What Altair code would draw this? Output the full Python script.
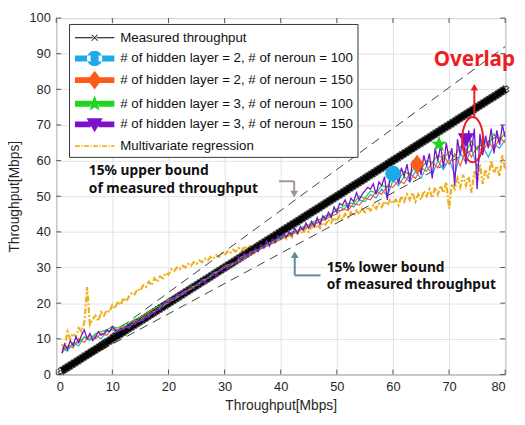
import altair as alt
import pandas as pd

# ---------------- data ----------------
x_ticks = [0, 10, 20, 30, 40, 50, 60, 70, 80]
y_ticks = [0, 10, 20, 30, 40, 50, 60, 70, 80, 90, 100]

labels = [
    "Measured throughput",
    "# of hidden layer = 2, # of neroun = 100",
    "# of hidden layer = 2, # of neroun = 150",
    "# of hidden layer = 3, # of neroun = 100",
    "# of hidden layer = 3, # of neroun = 150",
    "Multivariate regression",
]
colors = ["#000000", "#1EAAE8", "#FF5A1E", "#1FD51F", "#7D10C8", "#EDB120"]

int_x = [1, 2, 3, 4, 5, 6, 7, 8, 9, 10, 11, 12, 13, 14, 15, 16, 17, 18, 19, 20,
         21, 22, 23, 24, 25, 26, 27, 28, 29, 30, 31, 32, 33, 34, 35, 36, 37, 38, 39, 40,
         41, 42, 43, 44, 45, 46, 47, 48, 49, 50, 51, 52, 53, 54, 55, 56, 57, 58, 59, 60,
         61, 62, 63, 64, 65, 66, 67, 68, 69, 70, 71, 72, 73, 74, 75, 76, 77, 78, 79, 80]

half_x = [1.0, 1.5, 2.0, 2.5, 3.0, 3.5, 4.0, 4.5, 5.0, 5.5,
          6.0, 6.5, 7.0, 7.5, 8.0, 8.5, 9.0, 9.5, 10.0, 10.5,
          11.0, 11.5, 12.0, 12.5, 13.0, 13.5, 14.0, 14.5, 15.0, 15.5,
          16.0, 16.5, 17.0, 17.5, 18.0, 18.5, 19.0, 19.5, 20.0, 20.5,
          21.0, 21.5, 22.0, 22.5, 23.0, 23.5, 24.0, 24.5, 25.0, 25.5,
          26.0, 26.5, 27.0, 27.5, 28.0, 28.5, 29.0, 29.5, 30.0, 30.5,
          31.0, 31.5, 32.0, 32.5, 33.0, 33.5, 34.0, 34.5, 35.0, 35.5,
          36.0, 36.5, 37.0, 37.5, 38.0, 38.5, 39.0, 39.5, 40.0, 40.5,
          41.0, 41.5, 42.0, 42.5, 43.0, 43.5, 44.0, 44.5, 45.0, 45.5,
          46.0, 46.5, 47.0, 47.5, 48.0, 48.5, 49.0, 49.5, 50.0, 50.5,
          51.0, 51.5, 52.0, 52.5, 53.0, 53.5, 54.0, 54.5, 55.0, 55.5,
          56.0, 56.5, 57.0, 57.5, 58.0, 58.5, 59.0, 59.5, 60.0, 60.5,
          61.0, 61.5, 62.0, 62.5, 63.0, 63.5, 64.0, 64.5, 65.0, 65.5,
          66.0, 66.5, 67.0, 67.5, 68.0, 68.5, 69.0, 69.5, 70.0, 70.5,
          71.0, 71.5, 72.0, 72.5, 73.0, 73.5, 74.0, 74.5, 75.0, 75.5,
          76.0, 76.5, 77.0, 77.5, 78.0, 78.5, 79.0, 79.5, 80.0]

# measured throughput: measured value against itself
meas_x = half_x
meas_y = half_x

# 15% bounds
bound_x = [1, 80]
upper_y = [1.15, 92]
lower_y = [0.85, 68]

nn_blue = [7.5, 6.5, 9.0, 8.0, 10.5, 9.5, 11.0, 10.0, 12.0, 12.5,
           12.0, 13.0, 13.5, 14.5, 15.0, 16.0, 17.0, 18.5, 19.0, 20.5,
           21.0, 22.0, 23.0, 24.0, 25.0, 26.0, 27.0, 28.0, 29.0, 30.0,
           30.5, 31.5, 32.5, 33.5, 34.5, 35.0, 36.0, 36.5, 37.5, 38.5,
           39.0, 39.5, 40.5, 41.0, 41.5, 42.5, 43.0, 44.0, 45.0, 46.0,
           46.0, 47.5, 47.0, 49.0, 48.5, 50.5, 49.5, 52.0, 50.0, 54.5,
           53.0, 55.5, 54.0, 57.0, 55.0, 58.5, 56.0, 60.0, 57.5, 60.5,
           56.0, 62.0, 59.5, 63.5, 58.0, 64.0, 61.0, 64.5, 63.5, 66.0]
nn_orange = [6.0, 8.0, 7.5, 10.0, 9.0, 11.0, 10.0, 11.5, 11.0, 13.0,
             12.5, 13.5, 13.0, 15.0, 15.5, 16.5, 17.5, 18.0, 19.5, 20.0,
             21.5, 22.0, 23.5, 24.0, 25.0, 26.0, 27.0, 28.0, 29.0, 30.0,
             30.5, 31.5, 32.0, 33.0, 34.0, 35.0, 35.5, 36.5, 37.0, 38.0,
             38.5, 39.5, 40.0, 41.0, 41.5, 42.0, 43.0, 43.5, 44.5, 45.0,
             46.5, 46.0, 48.0, 47.5, 49.5, 49.0, 51.5, 50.5, 53.0, 52.5,
             54.5, 53.5, 56.5, 55.0, 58.0, 57.0, 59.5, 58.0, 61.5, 59.0,
             62.0, 58.5, 63.5, 61.0, 64.0, 62.5, 65.5, 63.0, 66.5, 65.0]
nn_green = [7.0, 7.5, 8.5, 9.0, 10.5, 10.0, 11.5, 12.0, 12.5, 13.5,
            13.0, 14.0, 14.5, 15.5, 16.0, 17.0, 18.0, 19.0, 19.5, 21.0,
            21.5, 22.5, 23.0, 24.5, 25.0, 26.5, 27.0, 28.5, 29.0, 30.5,
            31.0, 31.5, 33.0, 33.5, 34.5, 35.0, 36.0, 37.0, 37.5, 38.0,
            39.0, 40.0, 40.0, 41.5, 42.0, 43.0, 43.5, 44.5, 45.0, 46.5,
            47.0, 48.0, 48.0, 50.0, 49.5, 51.5, 51.0, 53.0, 52.5, 55.5,
            54.5, 57.0, 56.0, 58.5, 57.5, 60.0, 59.5, 61.5, 60.5, 62.5,
            61.0, 64.0, 62.5, 65.5, 63.0, 66.5, 64.0, 67.5, 65.5, 68.0]
nn_purple = [6.0, 8.5, 7.0, 9.5, 8.0, 10.5, 9.0, 11.0, 12.5, 10.0,
             11.5, 9.5, 10.5, 12.0, 11.0, 11.5, 12.5, 12.0, 13.5, 12.5,
             12.0, 13.0, 12.5, 13.5, 13.0, 14.5, 14.0, 15.0, 15.5, 15.0,
             16.5, 16.0, 17.5, 17.0, 18.5, 18.0, 19.5, 20.5, 20.0, 21.5,
             21.0, 22.5, 22.0, 23.5, 22.5, 24.0, 24.5, 24.0, 25.5, 25.0,
             26.5, 25.5, 27.5, 27.0, 28.5, 27.5, 29.5, 29.0, 30.5, 29.5,
             31.0, 31.5, 31.0, 33.0, 32.0, 34.0, 33.0, 34.5, 34.0, 35.5,
             34.5, 36.5, 35.5, 37.5, 36.0, 38.0, 37.0, 39.0, 38.0, 39.5,
             38.5, 40.0, 39.0, 41.0, 39.5, 41.5, 40.5, 42.5, 41.0, 43.0,
             41.5, 44.0, 42.0, 44.5, 43.5, 45.5, 44.0, 47.0, 45.5, 48.0,
             47.5, 49.0, 46.5, 49.5, 48.5, 51.0, 49.0, 50.5, 51.5, 52.5,
             52.0, 53.5, 50.5, 54.0, 53.0, 55.5, 49.0, 56.0, 54.5, 57.0,
             53.5, 58.0, 55.5, 59.0, 54.0, 60.0, 57.5, 60.5, 56.0, 61.5,
             58.5, 62.0, 55.0, 63.5, 60.0, 64.5, 58.0, 65.0, 60.5, 63.5,
             53.0, 66.0, 61.5, 67.0, 59.0, 68.5, 62.5, 69.0, 52.0, 67.5,
             61.5, 67.0, 63.5, 69.0, 62.0, 68.5, 64.5, 70.0, 66.5]
regression = [8.5, 7.5, 12.0, 10.0, 11.5, 10.5, 13.0, 12.0, 14.5, 24.5,
              14.0, 15.5, 16.5, 15.0, 17.5, 16.5, 18.0, 17.5, 19.5, 18.5,
              20.5, 19.5, 21.5, 20.5, 22.0, 23.0, 22.5, 24.0, 23.5, 25.0,
              24.5, 26.0, 25.0, 27.0, 26.0, 27.5, 27.0, 28.5, 28.0, 29.5,
              29.0, 30.0, 29.5, 30.5, 30.0, 31.0, 30.5, 31.5, 31.0, 32.0,
              31.5, 32.5, 32.0, 33.0, 32.5, 33.5, 33.0, 34.0, 33.5, 34.5,
              34.0, 35.0, 34.5, 35.5, 34.5, 36.0, 35.0, 36.0, 35.5, 36.5,
              36.0, 37.0, 36.0, 37.5, 37.0, 38.0, 37.0, 38.5, 37.5, 39.0,
              38.0, 39.5, 38.5, 40.0, 39.5, 40.5, 39.5, 41.0, 40.0, 41.5,
              41.0, 42.0, 41.0, 42.5, 42.0, 43.5, 42.5, 44.0, 43.0, 44.5,
              43.5, 45.0, 44.0, 45.5, 44.5, 46.0, 45.0, 46.5, 45.5, 47.0,
              46.0, 47.5, 46.5, 48.0, 47.0, 48.5, 47.5, 49.0, 48.0, 49.0,
              47.5, 50.0, 48.5, 50.5, 49.0, 51.0, 48.5, 50.5, 49.0, 51.5,
              50.0, 52.0, 49.5, 52.5, 50.5, 53.0, 51.0, 54.0, 46.5, 53.5,
              52.0, 55.0, 52.5, 56.0, 53.0, 55.5, 51.0, 57.0, 54.0, 59.0,
              53.5, 57.5, 55.0, 60.0, 56.5, 58.5, 55.5, 61.5, 57.5]

# big markers on the NN curves
marker_x = [60.0, 64.3, 68.2, 73.0]
marker_y = [56.4, 59.0, 64.6, 66.0]

# ---------------- shapes ----------------
circ = "M-0.78,0A0.78,0.78 0 1,0 0.78,0A0.78,0.78 0 1,0 -0.78,0Z"
diam = "M0,-0.95L0.72,0L0,0.95L-0.72,0Z"
star = ("M0,-0.85L0.21,-0.28L0.81,-0.26L0.33,0.11L0.5,0.69L0,0.35L-0.5,0.69"
        "L-0.33,0.11L-0.81,-0.26L-0.21,-0.28Z")
tri = "M-0.82,-0.62L0.82,-0.62L0,0.8Z"
bar = "M-2,-0.3H-0.4V0.3H-2Z M0.4,-0.3H2V0.3H0.4Z "
thin = "M-2,-0.05H-0.2V0.05H-2Z M0.2,-0.05H2V0.05H0.2Z "
xmark = ("M-0.33,-0.27L0.27,0.33L0.33,0.27L-0.27,-0.33Z "
         "M-0.33,0.27L-0.27,0.33L0.33,-0.27L0.27,-0.33Z")
dashdot = ("M-2,-0.09H-1.5V0.09H-2Z M-1.35,-0.09H-1.23V0.09H-1.35Z "
           "M-1.08,-0.09H-0.58V0.09H-1.08Z M-0.43,-0.09H-0.31V0.09H-0.43Z "
           "M-0.16,-0.09H0.34V0.09H-0.16Z M0.49,-0.09H0.61V0.09H0.49Z "
           "M0.76,-0.09H1.26V0.09H0.76Z M1.41,-0.09H1.53V0.09H1.41Z "
           "M1.68,-0.09H2V0.09H1.68Z")
legend_shapes = [thin + xmark, bar + circ, bar + diam, bar + star, bar + tri, dashdot]
marker_shapes = [circ, diam, star, tri]
ellipse = "M0,-1A0.46,1 0 1,1 0,1A0.46,1 0 1,1 0,-1Z"

# ---------------- encodings ----------------
FONT = "Liberation Sans"
W, H = 456, 362
xs = alt.Scale(domain=[0, 80], nice=False)
ysc = alt.Scale(domain=[0, 100], nice=False)
X = alt.X("x:Q", scale=xs, axis=alt.Axis(values=x_ticks, title="Throughput[Mbps]"))
Y = alt.Y("y:Q", scale=ysc, axis=alt.Axis(values=y_ticks, title="Throughput[Mbps]"))


def line_df(xv, yv):
    return pd.DataFrame({"x": xv, "y": yv})


layers = []

# inward ticks on all four sides
xt = pd.DataFrame({"x": x_ticks})
yt = pd.DataFrame({"y": y_ticks})
tick_col = "#555555"
layers.append(alt.Chart(xt).mark_rule(color=tick_col).encode(x=X, y=alt.value(H), y2=alt.value(H - 5)))
layers.append(alt.Chart(xt).mark_rule(color=tick_col).encode(x=X, y=alt.value(0), y2=alt.value(5)))
layers.append(alt.Chart(yt).mark_rule(color=tick_col).encode(y=Y, x=alt.value(0), x2=alt.value(5)))
layers.append(alt.Chart(yt).mark_rule(color=tick_col).encode(y=Y, x=alt.value(W), x2=alt.value(W - 5)))

# regression
layers.append(alt.Chart(line_df(half_x, regression)).mark_line(
    color="#EDB120", strokeWidth=2.2, strokeDash=[6, 2, 2, 2]).encode(x=X, y=Y))

# bounds
for yb in (upper_y, lower_y):
    layers.append(alt.Chart(line_df(bound_x, yb)).mark_line(
        color="#404040", strokeWidth=1, strokeDash=[9, 6]).encode(x=X, y=Y))

# measured throughput (thick band of x markers)
mdf = line_df(meas_x, meas_y)
layers.append(alt.Chart(mdf).mark_line(color="#111111", strokeWidth=6).encode(x=X, y=Y))
layers.append(alt.Chart(mdf).mark_point(shape="cross", angle=45, size=55, color="#000000",
                                        strokeWidth=1.2, filled=False).encode(x=X, y=Y))

# NN curves
for vals, col in ((nn_blue, colors[1]), (nn_orange, colors[2]), (nn_green, colors[3])):
    layers.append(alt.Chart(line_df(int_x, vals)).mark_line(color=col, strokeWidth=1.2).encode(x=X, y=Y))
layers.append(alt.Chart(line_df(half_x, nn_purple)).mark_line(color=colors[4], strokeWidth=1.3).encode(x=X, y=Y))

# big markers
mk = pd.DataFrame({"x": marker_x, "y": marker_y, "s": marker_shapes, "c": colors[1:5]})
layers.append(alt.Chart(mk).mark_point(filled=True, size=400, opacity=1, strokeWidth=0).encode(
    x=X, y=Y, shape=alt.Shape("s:N", scale=None), color=alt.Color("c:N", scale=None)))

# annotations: segments
seg = pd.DataFrame({
    "x": [39.7, 42.4, 42.5, 42.5, 74.5],
    "y": [54.2, 54.2, 27.8, 27.8, 72.2],
    "x2": [42.4, 42.4, 42.5, 47.1, 74.5],
    "y2": [54.2, 51.2, 32.8, 27.8, 80.0],
    "c": ["#A69098", "#A69098", "#5E8C99", "#5E8C99", "#EE1C25"],
})
layers.append(alt.Chart(seg).mark_rule(strokeWidth=2).encode(
    x=X, y=Y, x2="x2:Q", y2="y2:Q", color=alt.Color("c:N", scale=None)))
heads = pd.DataFrame({
    "x": [42.4, 42.5, 74.5],
    "y": [50.6, 33.6, 80.6],
    "s": ["triangle-down", "triangle-up", "triangle-up"],
    "c": ["#A69098", "#5E8C99", "#EE1C25"],
})
layers.append(alt.Chart(heads).mark_point(filled=True, size=60, opacity=1, strokeWidth=0).encode(
    x=X, y=Y, shape=alt.Shape("s:N", scale=None), color=alt.Color("c:N", scale=None)))
# ellipse
ell = pd.DataFrame({"x": [74.2], "y": [65.9]})
layers.append(alt.Chart(ell).mark_point(shape=ellipse, size=2116, color="#EE1C25", strokeWidth=2,
                                        filled=False, opacity=1).encode(x=X, y=Y))

# texts
notes = pd.DataFrame({
    "x": [5.8, 48.2],
    "y": [58.9, 31.9],
    "t": ["15% upper bound\nof measured throughput", "15% lower bound\nof measured throughput"],
})
layers.append(alt.Chart(notes).mark_text(align="left", baseline="top", font="Noto Sans",
                                         fontWeight="bold", fontSize=14, lineBreak="\n",
                                         lineHeight=18, color="#111111").encode(x=X, y=Y, text="t:N"))
ov = pd.DataFrame({"x": [74.5], "y": [88.2], "t": ["Overlap"]})
layers.append(alt.Chart(ov).mark_text(align="center", baseline="middle", font="Noto Sans",
                                      fontWeight="bold", fontSize=21, color="#EE1C25").encode(x=X, y=Y, text="t:N"))

# legend carrier (clipped away, only provides the legend)
leg = pd.DataFrame({"lab": labels})
layers.append(alt.Chart(leg).mark_point(filled=True, clip=True, opacity=1).encode(
    x=alt.value(-1000), y=alt.value(-1000),
    color=alt.Color("lab:N", scale=alt.Scale(domain=labels, range=colors), sort=labels,
                    legend=alt.Legend(title=None, orient="none", legendX=13, legendY=6,
                                      symbolSize=400, symbolStrokeWidth=0, symbolOpacity=1,
                                      labelFont=FONT, labelFontSize=13.5, labelColor="#111111",
                                      labelLimit=500, labelOffset=16, symbolOffset=12,
                                      rowPadding=4, padding=4, fillColor="white",
                                      strokeColor="#333333")),
    shape=alt.Shape("lab:N", scale=alt.Scale(domain=labels, range=legend_shapes), sort=labels),
))

chart = alt.layer(*layers).properties(
    width=W, height=H,
    autosize=alt.AutoSizeParams(type="none"),
    padding={"left": 49, "top": 7, "right": 12, "bottom": 40},
).configure_view(stroke="#555555", strokeWidth=1).configure_axis(
    domain=False, ticks=False, grid=True, gridColor="#e3e3e3", gridWidth=1,
    labelFont=FONT, labelFontSize=13, labelColor="#262626", labelPadding=6,
    titleFont=FONT, titleFontSize=14, titleColor="#262626", titleFontWeight="normal",
).configure_axisY(titlePadding=8).configure_axisX(titlePadding=6)

chart.save("out.html", embed_options={"renderer": "svg", "actions": False})
